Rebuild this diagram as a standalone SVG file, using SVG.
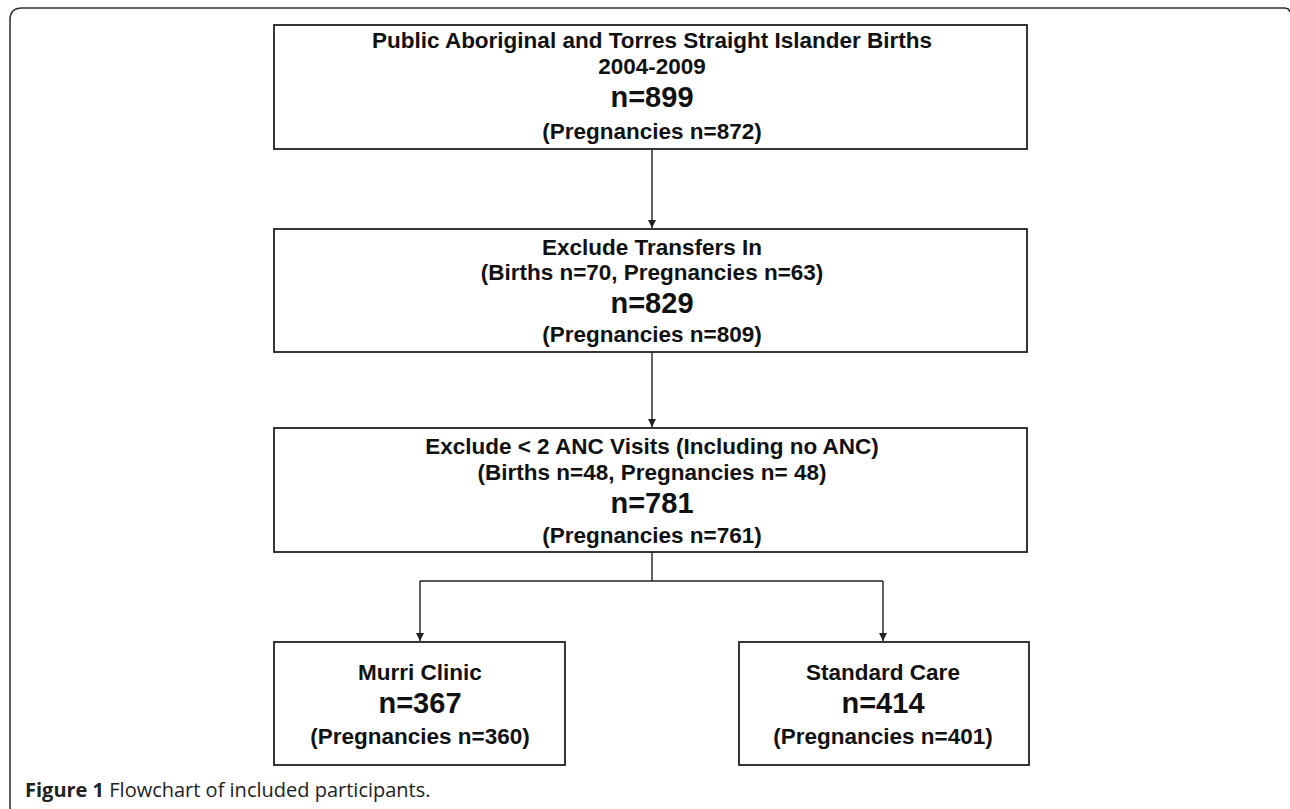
<svg xmlns="http://www.w3.org/2000/svg" width="1290" height="809" viewBox="0 0 1290 809">
<style>
.box{fill:#fff;stroke:#222;stroke-width:1.8}
.t{font-family:"Liberation Sans",Arial,sans-serif;font-weight:bold;font-size:22.5px;fill:#111;text-anchor:middle}
.n{font-size:29px}
.c{fill:none;stroke:#222;stroke-width:1.4}
.frame{fill:none;stroke:#333;stroke-width:1.6}
.cap{font-family:"Open Sans","Noto Sans",sans-serif;font-size:20px;font-weight:500;fill:#222}
</style>
<defs>
<marker id="ah" viewBox="0 0 10 10" refX="10" refY="5" markerWidth="8" markerHeight="9" markerUnits="userSpaceOnUse" orient="auto">
<path d="M0,0 L10,5 L0,10 Z" fill="#222"/>
</marker>
</defs>
<rect width="1290" height="809" fill="#fff"/>
<path class="frame" d="M10,809 L10,20 Q10,8 22,8 L1284,8 Q1289,8 1290,12"/>
<g id="connectors">
<line class="c" x1="652" y1="149" x2="652" y2="228" marker-end="url(#ah)"/>
<line class="c" x1="652" y1="352" x2="652" y2="427" marker-end="url(#ah)"/>
<path class="c" d="M652,552 L652,581 M420,581 L883,581"/>
<line class="c" x1="420" y1="581" x2="420" y2="641" marker-end="url(#ah)"/>
<line class="c" x1="883" y1="581" x2="883" y2="641" marker-end="url(#ah)"/>
</g>
<g id="node-births">
<rect class="box" x="274" y="25" width="753" height="124"/>
<text class="t" x="652" y="48">Public Aboriginal and Torres Straight Islander Births</text>
<text class="t" x="652" y="74">2004-2009</text>
<text class="t n" x="652" y="107">n=899</text>
<text class="t" x="652" y="139">(Pregnancies n=872)</text>
</g>
<g id="node-transfers">
<rect class="box" x="274" y="229" width="753" height="123"/>
<text class="t" x="652" y="255">Exclude Transfers In</text>
<text class="t" x="652" y="280">(Births n=70, Pregnancies n=63)</text>
<text class="t n" x="652" y="313">n=829</text>
<text class="t" x="652" y="342">(Pregnancies n=809)</text>
</g>
<g id="node-anc">
<rect class="box" x="274" y="428" width="753" height="124"/>
<text class="t" x="652" y="454">Exclude &lt; 2 ANC Visits (Including no ANC)</text>
<text class="t" x="652" y="480">(Births n=48, Pregnancies n= 48)</text>
<text class="t n" x="652" y="513">n=781</text>
<text class="t" x="652" y="543">(Pregnancies n=761)</text>
</g>
<g id="node-murri">
<rect class="box" x="274" y="642" width="291" height="123"/>
<text class="t" x="420" y="680">Murri Clinic</text>
<text class="t n" x="420" y="713">n=367</text>
<text class="t" x="420" y="744">(Pregnancies n=360)</text>
</g>
<g id="node-standard">
<rect class="box" x="739" y="642" width="290" height="123"/>
<text class="t" x="883" y="680">Standard Care</text>
<text class="t n" x="883" y="713">n=414</text>
<text class="t" x="883" y="744">(Pregnancies n=401)</text>
</g>
<text class="cap" x="25" y="797"><tspan font-weight="bold">Figure 1</tspan> Flowchart of included participants.</text>
</svg>
